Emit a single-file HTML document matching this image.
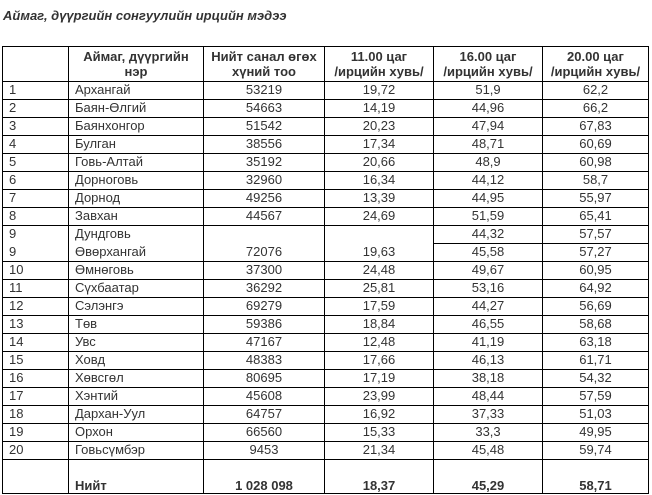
<!DOCTYPE html>
<html>
<head>
<meta charset="utf-8">
<style>
html,body{margin:0;padding:0;background:#fff;}
body{width:652px;height:495px;position:relative;overflow:hidden;font-family:"Liberation Sans",Arial,sans-serif;font-size:13px;color:#333;}
.t{position:absolute;left:3px;top:7px;font-weight:bold;font-style:italic;font-size:13px;line-height:18px;color:#333;white-space:nowrap;}
.h{position:absolute;height:1px;background:#000;left:2px;width:647px;}
.v{position:absolute;width:1px;background:#000;top:46px;height:448px;}
.r{position:absolute;left:0;width:652px;height:18px;line-height:18px;white-space:nowrap;}
.r div{position:absolute;top:0;}
.a{left:9px;}
.b{left:75px;}
.c{left:204px;width:120px;text-align:center;}
.d{left:325px;width:108px;text-align:center;}
.e{left:434px;width:108px;text-align:center;}
.f{left:543px;width:105px;text-align:center;}
.hd{position:absolute;top:49px;line-height:15px;font-weight:bold;text-align:center;}
.tot{font-weight:bold;}
</style>
</head>
<body>
<div class="t">Аймаг, дүүргийн сонгуулийн ирцийн мэдээ</div>

<!-- horizontal lines -->
<div class="h" style="top:46px"></div>
<div class="h" style="top:81px"></div>
<div class="h" style="top:99px"></div>
<div class="h" style="top:117px"></div>
<div class="h" style="top:135px"></div>
<div class="h" style="top:153px"></div>
<div class="h" style="top:171px"></div>
<div class="h" style="top:189px"></div>
<div class="h" style="top:207px"></div>
<div class="h" style="top:225px"></div>
<div class="h" style="top:243px;left:433px;width:216px"></div>
<div class="h" style="top:261px"></div>
<div class="h" style="top:279px"></div>
<div class="h" style="top:297px"></div>
<div class="h" style="top:315px"></div>
<div class="h" style="top:333px"></div>
<div class="h" style="top:351px"></div>
<div class="h" style="top:369px"></div>
<div class="h" style="top:387px"></div>
<div class="h" style="top:405px"></div>
<div class="h" style="top:423px"></div>
<div class="h" style="top:441px"></div>
<div class="h" style="top:459px"></div>
<div class="h" style="top:493px"></div>

<!-- vertical lines -->
<div class="v" style="left:2px"></div>
<div class="v" style="left:68px"></div>
<div class="v" style="left:203px"></div>
<div class="v" style="left:324px"></div>
<div class="v" style="left:433px"></div>
<div class="v" style="left:542px"></div>
<div class="v" style="left:648px"></div>

<!-- header -->
<div class="hd" style="left:69px;width:134px">Аймаг, дүүргийн<br>нэр</div>
<div class="hd" style="left:204px;width:120px">Нийт санал өгөх<br>хүний тоо</div>
<div class="hd" style="left:325px;width:108px">11.00 цаг<br>/ирцийн хувь/</div>
<div class="hd" style="left:434px;width:108px">16.00 цаг<br>/ирцийн хувь/</div>
<div class="hd" style="left:543px;width:105px">20.00 цаг<br>/ирцийн хувь/</div>

<!-- rows -->
<div class="r" style="top:81px"><div class="a">1</div><div class="b">Архангай</div><div class="c">53219</div><div class="d">19,72</div><div class="e">51,9</div><div class="f">62,2</div></div>
<div class="r" style="top:99px"><div class="a">2</div><div class="b">Баян-Өлгий</div><div class="c">54663</div><div class="d">14,19</div><div class="e">44,96</div><div class="f">66,2</div></div>
<div class="r" style="top:117px"><div class="a">3</div><div class="b">Баянхонгор</div><div class="c">51542</div><div class="d">20,23</div><div class="e">47,94</div><div class="f">67,83</div></div>
<div class="r" style="top:135px"><div class="a">4</div><div class="b">Булган</div><div class="c">38556</div><div class="d">17,34</div><div class="e">48,71</div><div class="f">60,69</div></div>
<div class="r" style="top:153px"><div class="a">5</div><div class="b">Говь-Алтай</div><div class="c">35192</div><div class="d">20,66</div><div class="e">48,9</div><div class="f">60,98</div></div>
<div class="r" style="top:171px"><div class="a">6</div><div class="b">Дорноговь</div><div class="c">32960</div><div class="d">16,34</div><div class="e">44,12</div><div class="f">58,7</div></div>
<div class="r" style="top:189px"><div class="a">7</div><div class="b">Дорнод</div><div class="c">49256</div><div class="d">13,39</div><div class="e">44,95</div><div class="f">55,97</div></div>
<div class="r" style="top:207px"><div class="a">8</div><div class="b">Завхан</div><div class="c">44567</div><div class="d">24,69</div><div class="e">51,59</div><div class="f">65,41</div></div>
<div class="r" style="top:225px"><div class="a">9</div><div class="b">Дундговь</div><div class="e">44,32</div><div class="f">57,57</div></div>
<div class="r" style="top:243px"><div class="a">9</div><div class="b">Өвөрхангай</div><div class="c">72076</div><div class="d">19,63</div><div class="e">45,58</div><div class="f">57,27</div></div>
<div class="r" style="top:261px"><div class="a">10</div><div class="b">Өмнөговь</div><div class="c">37300</div><div class="d">24,48</div><div class="e">49,67</div><div class="f">60,95</div></div>
<div class="r" style="top:279px"><div class="a">11</div><div class="b">Сүхбаатар</div><div class="c">36292</div><div class="d">25,81</div><div class="e">53,16</div><div class="f">64,92</div></div>
<div class="r" style="top:297px"><div class="a">12</div><div class="b">Сэлэнгэ</div><div class="c">69279</div><div class="d">17,59</div><div class="e">44,27</div><div class="f">56,69</div></div>
<div class="r" style="top:315px"><div class="a">13</div><div class="b">Төв</div><div class="c">59386</div><div class="d">18,84</div><div class="e">46,55</div><div class="f">58,68</div></div>
<div class="r" style="top:333px"><div class="a">14</div><div class="b">Увс</div><div class="c">47167</div><div class="d">12,48</div><div class="e">41,19</div><div class="f">63,18</div></div>
<div class="r" style="top:351px"><div class="a">15</div><div class="b">Ховд</div><div class="c">48383</div><div class="d">17,66</div><div class="e">46,13</div><div class="f">61,71</div></div>
<div class="r" style="top:369px"><div class="a">16</div><div class="b">Хөвсгөл</div><div class="c">80695</div><div class="d">17,19</div><div class="e">38,18</div><div class="f">54,32</div></div>
<div class="r" style="top:387px"><div class="a">17</div><div class="b">Хэнтий</div><div class="c">45608</div><div class="d">23,99</div><div class="e">48,44</div><div class="f">57,59</div></div>
<div class="r" style="top:405px"><div class="a">18</div><div class="b">Дархан-Уул</div><div class="c">64757</div><div class="d">16,92</div><div class="e">37,33</div><div class="f">51,03</div></div>
<div class="r" style="top:423px"><div class="a">19</div><div class="b">Орхон</div><div class="c">66560</div><div class="d">15,33</div><div class="e">33,3</div><div class="f">49,95</div></div>
<div class="r" style="top:441px"><div class="a">20</div><div class="b">Говьсүмбэр</div><div class="c">9453</div><div class="d">21,34</div><div class="e">45,48</div><div class="f">59,74</div></div>
<div class="r tot" style="top:477px"><div class="b">Нийт</div><div class="c">1 028 098</div><div class="d">18,37</div><div class="e">45,29</div><div class="f">58,71</div></div>
</body>
</html>
